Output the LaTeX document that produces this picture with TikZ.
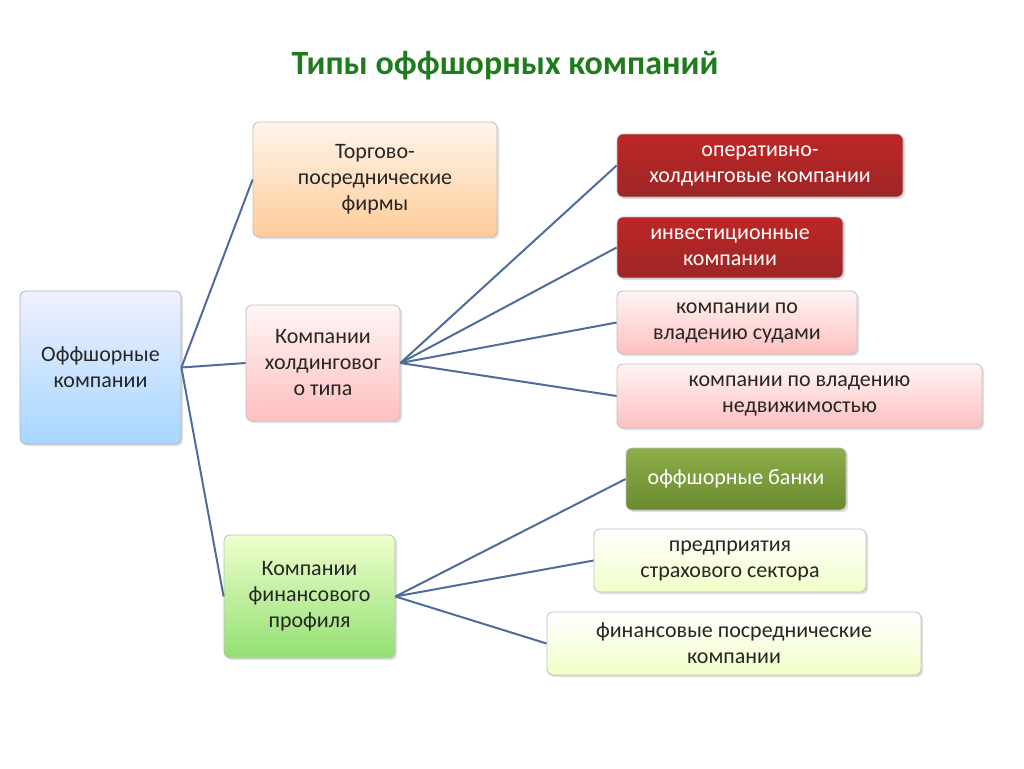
\documentclass[tikz,border=0pt]{standalone}
\usepackage{fontspec}
\setmainfont{Carlito}
\usetikzlibrary{shadows}

\tikzset{
  box/.style={draw=#1, line width=0.8pt, rounded corners=6pt, align=center,
    inner sep=0pt, drop shadow={opacity=0.25, shadow xshift=2pt, shadow yshift=-2pt},
    font=\fontsize{22}{26}\selectfont, text=black!85},
  link/.style={draw=linkblue, line width=2pt},
}
\definecolor{linkblue}{HTML}{4F6D9A}
\definecolor{titlegreen}{HTML}{1E7B1E}
\definecolor{olivetop}{HTML}{8DAE48}
\definecolor{olivebot}{HTML}{6A8A30}

\newcommand{\boxat}[7]{% name, x1, y1, x2, y2, colour style, text
  \node[#6, minimum width={(#4-#2)*1pt}, minimum height={(#5-#3)*1pt}]
    (#1) at ({(#2+#4)/2}, {(#3+#5)/2}) {#7};
}

\begin{document}
\begin{tikzpicture}[x=1pt, y=-1pt,
  bluebox/.style={box=gray!60, top color=blue!6, bottom color=blue!45!cyan!35},
  orangebox/.style={box=gray!50, top color=orange!8, bottom color=orange!40},
  pinkbox/.style={box=gray!50, top color=red!4, bottom color=red!25},
  redbox/.style={box=gray!50, top color=red!70!black!85, bottom color=red!55!black!85, text=white},
  greenbox/.style={box=gray!50, top color=green!10!lime!20, bottom color=green!55!olive!55},
  olivebox/.style={box=gray!50, top color=olivetop, bottom color=olivebot, text=white},
  lightgreenbox/.style={box=gray!50, top color=white, bottom color=lime!22},
]
\useasboundingbox (0,0) rectangle (1024,768);

\node[font=\fontsize{34}{40}\selectfont\bfseries, text=titlegreen] (title) at (505,66) {Типы оффшорных компаний};

\boxat{root}{20}{291}{181}{444}{bluebox}{Оффшорные\\компании}
\boxat{torg}{253}{122}{497}{237}{orangebox}{Торгово-\\посреднические\\фирмы}
\boxat{hold}{246}{305}{400}{421}{pinkbox}{Компании\\холдинговог\\о типа}
\boxat{fin}{224}{535}{395}{658}{greenbox}{Компании\\финансового\\профиля}

\boxat{oper}{617}{134}{903}{197}{redbox}{оперативно-\\холдинговые компании}
\boxat{invest}{617}{217}{843}{278}{redbox}{инвестиционные\\компании}
\boxat{sudy}{617}{291}{857}{354}{pinkbox}{компании по\\владению судами}
\boxat{nedv}{617}{364}{982}{428}{pinkbox}{компании по владению\\недвижимостью}
\boxat{bank}{626}{448}{846}{510}{olivebox}{оффшорные банки}
\boxat{strah}{594}{529}{866}{592}{lightgreenbox}{предприятия\\страхового сектора}
\boxat{posr}{547}{612}{921}{675}{lightgreenbox}{финансовые посреднические\\компании}

\foreach \t in {torg,hold,fin}
  \draw[link] (root.east) -- (\t.west);
\foreach \t in {oper,invest,sudy,nedv}
  \draw[link] (hold.east) -- (\t.west);
\foreach \t in {bank,strah,posr}
  \draw[link] (fin.east) -- (\t.west);
\end{tikzpicture}
\end{document}
